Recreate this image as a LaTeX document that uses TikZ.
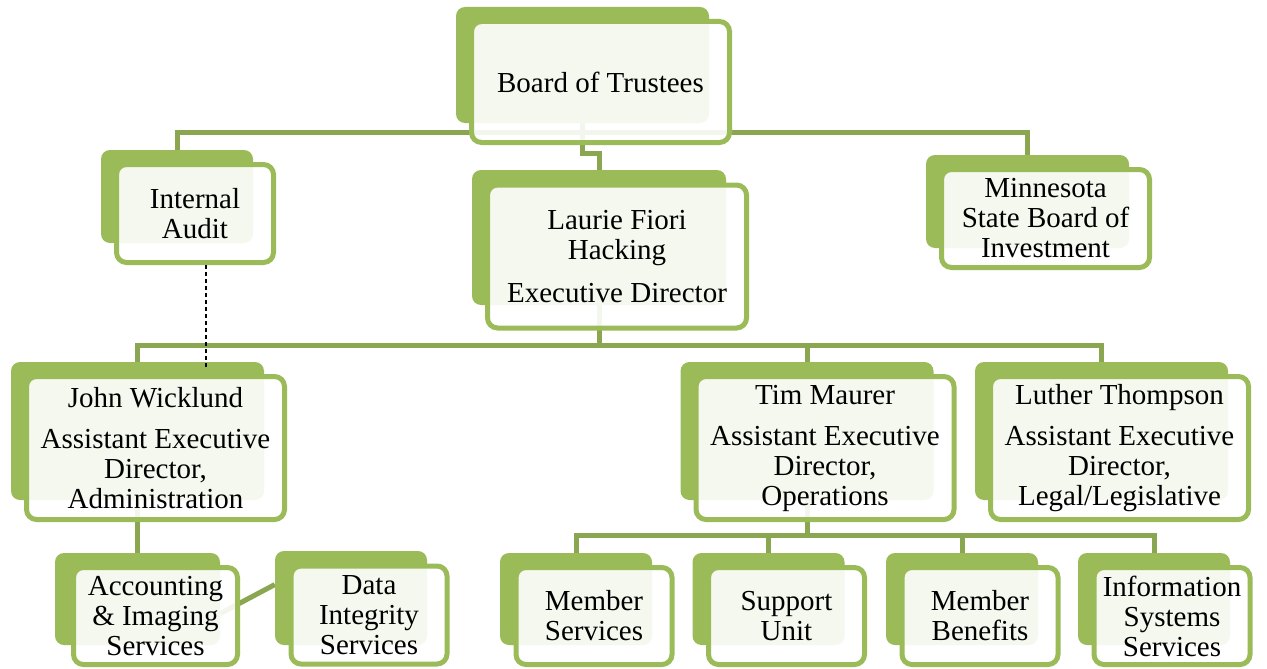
\documentclass[tikz,border=0pt]{standalone}
\usepackage{fontspec}
\setmainfont{Liberation Serif}
\usepackage{tikz}
\usetikzlibrary{backgrounds}
\definecolor{boxgreen}{RGB}{155,187,89}
\definecolor{linkgreen}{RGB}{138,166,80}

\begin{document}
\begin{tikzpicture}[x=1pt,y=-1pt,
  backbox/.style={rectangle,rounded corners=9pt,fill=boxgreen,inner sep=0pt},
  frontbox/.style={rectangle,rounded corners=10pt,draw=boxgreen,line width=5pt,fill=white,fill opacity=0.9,text opacity=1,inner sep=0pt,align=center,font=\fontsize{29}{30}\selectfont},
  link/.style={draw=linkgreen,line width=5pt}]
\useasboundingbox (0,0) rectangle (1267,669);
% top
\node[backbox,minimum width=253pt,minimum height=116pt] (trusteesb) at (582.5,65) {};
\node[frontbox,minimum width=258pt,minimum height=121pt] (trustees) at ([shift={(18,17)}]trusteesb.center) {Board of Trustees};
% first level
\node[backbox,minimum width=152pt,minimum height=93pt] (auditb) at (177,196.5) {};
\node[frontbox,minimum width=157pt,minimum height=98pt] (audit) at ([shift={(18,17)}]auditb.center) {Internal\\Audit};
\node[backbox,minimum width=254pt,minimum height=135pt] (directorb) at (599,237.5) {};
\node[frontbox,minimum width=259pt,minimum height=143pt] (director) at ([shift={(18,19)}]directorb.center) {Laurie Fiori\\Hacking\\[13pt]Executive Director};
\node[backbox,minimum width=203pt,minimum height=93pt] (sbib) at (1027.5,201.5) {};
\node[frontbox,minimum width=208pt,minimum height=98pt] (sbi) at ([shift={(18,17)}]sbib.center) {Minnesota\\State Board of\\Investment};
% second level
\node[backbox,minimum width=253pt,minimum height=138pt] (wicklundb) at (137.5,431) {};
\node[frontbox,minimum width=258pt,minimum height=143pt] (wicklund) at ([shift={(18,17)}]wicklundb.center) {John Wicklund\\[11pt]Assistant Executive\\Director,\\Administration};
\node[backbox,minimum width=253pt,minimum height=138pt] (maurerb) at (807,431) {};
\node[frontbox,minimum width=258pt,minimum height=143pt] (maurer) at ([shift={(18,17)}]maurerb.center) {Tim Maurer\\[11pt]Assistant Executive\\Director,\\Operations};
\node[backbox,minimum width=253pt,minimum height=138pt] (thompsonb) at (1101.5,431) {};
\node[frontbox,minimum width=258pt,minimum height=143pt] (thompson) at ([shift={(18,17)}]thompsonb.center) {Luther Thompson\\[11pt]Assistant Executive\\Director,\\Legal/Legislative};
% third level
\node[backbox,minimum width=165pt,minimum height=92pt] (accountingb) at (137.5,599) {};
\node[frontbox,minimum width=164pt,minimum height=97pt] (accounting) at ([shift={(18,17)}]accountingb.center) {Accounting\\\&\ Imaging\\Services};
\node[backbox,minimum width=152pt,minimum height=94pt] (integrityb) at (351,598) {};
\node[frontbox,minimum width=156pt,minimum height=98pt] (integrity) at ([shift={(18,17)}]integrityb.center) {Data\\Integrity\\Services};
\node[backbox,minimum width=152pt,minimum height=92pt] (memberservb) at (576,599) {};
\node[frontbox,minimum width=156pt,minimum height=97pt] (memberserv) at ([shift={(18,17)}]memberservb.center) {Member\\Services};
\node[backbox,minimum width=152pt,minimum height=92pt] (supportb) at (768.5,599) {};
\node[frontbox,minimum width=156pt,minimum height=97pt] (support) at ([shift={(18,17)}]supportb.center) {Support\\Unit};
\node[backbox,minimum width=152pt,minimum height=92pt] (benefitsb) at (962,599) {};
\node[frontbox,minimum width=156pt,minimum height=97pt] (benefits) at ([shift={(18,17)}]benefitsb.center) {Member\\Benefits};
\node[backbox,minimum width=152pt,minimum height=92pt] (infosysb) at (1154,599) {};
\node[frontbox,minimum width=156pt,minimum height=97pt] (infosys) at ([shift={(18,17)}]infosysb.center) {Information\\Systems\\Services};
% connectors
\begin{scope}[on background layer]
\draw[link] (trusteesb.south) -- ++(0,9) -| (auditb.north);
\draw[link] (trusteesb.south) -- ++(0,9) -| (sbib.north);
\draw[link] (trusteesb.south) -- ++(0,30) -| (directorb.north);
\draw[link] (directorb.south) -- ++(0,40) -| (wicklundb.north);
\draw[link] (directorb.south) -- ++(0,40) -| (maurerb.north);
\draw[link] (directorb.south) -- ++(0,40) -| (thompsonb.north);
\draw[link] (wicklundb.south) -- (accountingb.north);
\draw[link] (accountingb.-10) -- (integrityb.170);
\draw[link] (maurerb.south) -- ++(0,35) -| (memberservb.north);
\draw[link] (maurerb.south) -- ++(0,35) -| (supportb.north);
\draw[link] (maurerb.south) -- ++(0,35) -| (benefitsb.north);
\draw[link] (maurerb.south) -- ++(0,35) -| (infosysb.north);
\end{scope}
\draw[dash pattern=on 4pt off 3pt,line width=1.2pt] ([xshift=11pt]audit.south) -- ([xshift=68.5pt,yshift=-7pt]wicklundb.north);
\end{tikzpicture}
\end{document}
